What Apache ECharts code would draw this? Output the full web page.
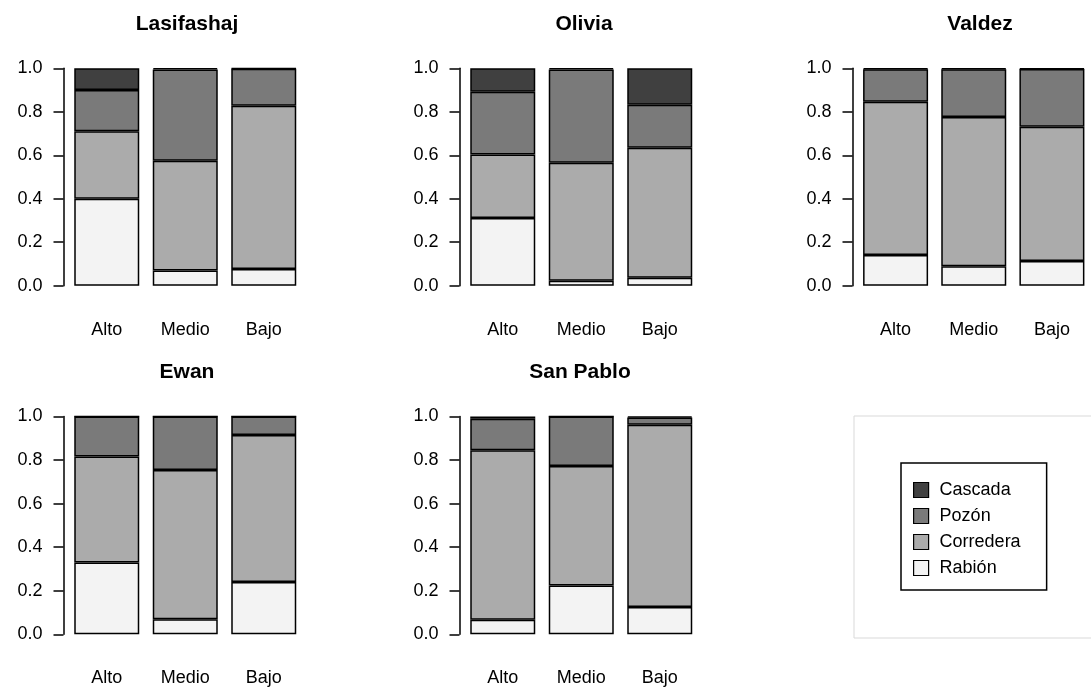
<!DOCTYPE html>
<html>
<head>
<meta charset="utf-8">
<script src="https://cdn.jsdelivr.net/npm/echarts@6/dist/echarts.min.js"></script>
<style>
html,body{margin:0;padding:0;background:#fff;}
#chart{width:1091px;height:688px;}
</style>
</head>
<body>
<div id="chart"></div>
<script>
// ---- data ----
const categories = ['Alto', 'Medio', 'Bajo'];
const sites = ['Lasifashaj', 'Olivia', 'Valdez', 'Ewan', 'San Pablo'];
const typeNames = ['Rabión', 'Corredera', 'Pozón', 'Cascada'];
const legendOrder = ['Cascada', 'Pozón', 'Corredera', 'Rabión'];
const yTicks = [0, 0.2, 0.4, 0.6, 0.8, 1.0];

// proportions per site: [Alto, Medio, Bajo]
const rabion = [
  [0.400, 0.070, 0.077],
  [0.311, 0.023, 0.036],
  [0.141, 0.089, 0.114],
  [0.330, 0.069, 0.240],
  [0.067, 0.224, 0.125]
];
const corredera = [
  [0.310, 0.505, 0.751],
  [0.292, 0.543, 0.599],
  [0.705, 0.687, 0.617],
  [0.486, 0.685, 0.675],
  [0.778, 0.549, 0.837]
];
const pozon = [
  [0.190, 0.420, 0.170],
  [0.289, 0.429, 0.197],
  [0.150, 0.220, 0.266],
  [0.184, 0.246, 0.085],
  [0.145, 0.227, 0.033]
];
const cascada = [
  [0.100, 0.005, 0.002],
  [0.108, 0.005, 0.168],
  [0.004, 0.004, 0.003],
  [0.000, 0.000, 0.000],
  [0.010, 0.000, 0.005]
];

// ---- styling / layout ----
const colors = { 'Rabión': '#f3f3f3', 'Corredera': '#ababab', 'Pozón': '#7a7a7a', 'Cascada': '#404040' };
const FONT = 'Liberation Sans, Arial, sans-serif';
const panels = [
  { left: 67.5, top: 68.3, height: 217.4, titleX: 187, titleY: 14 },
  { left: 463.5, top: 68.3, height: 217.4, titleX: 584, titleY: 14 },
  { left: 856.5, top: 68.3, height: 217.4, titleX: 980, titleY: 14 },
  { left: 67.5, top: 416.5, height: 217.8, titleX: 187, titleY: 362 },
  { left: 463.5, top: 416.5, height: 217.8, titleX: 580, titleY: 362 }
];
const PANEL_W = 235.5;
const valuesByType = { 'Rabión': rabion, 'Corredera': corredera, 'Pozón': pozon, 'Cascada': cascada };

const grid = [], xAxis = [], yAxis = [], series = [], title = [];
panels.forEach((p, i) => {
  grid.push({ left: p.left, top: p.top, width: PANEL_W, height: p.height, containLabel: false });
  title.push({
    text: sites[i], left: p.titleX, top: p.titleY, textAlign: 'center', padding: 0,
    textStyle: { fontFamily: FONT, fontSize: 21, fontWeight: 'bold', color: '#000' }
  });
  xAxis.push({
    type: 'category', gridIndex: i, data: categories,
    axisLine: { show: false }, axisTick: { show: false },
    axisLabel: { color: '#000', fontSize: 18, fontFamily: FONT, margin: 35 }
  });
  yAxis.push({
    type: 'value', gridIndex: i, min: 0, max: 1, interval: 0.2, offset: 4,
    splitLine: { show: false },
    axisLine: { show: true, lineStyle: { color: '#000', width: 1.5 } },
    axisTick: { show: true, length: 10, lineStyle: { color: '#000', width: 1.5 } },
    axisLabel: { color: '#000', fontSize: 18, fontFamily: FONT, margin: 21,
      formatter: v => (yTicks.some(t => Math.abs(t - v) < 1e-9) ? v.toFixed(1) : '') }
  });
  typeNames.forEach(name => {
    series.push({
      name: name, type: 'bar', stack: 'site' + i, xAxisIndex: i, yAxisIndex: i,
      barWidth: 65, data: valuesByType[name][i],
      itemStyle: { color: colors[name], borderColor: '#000', borderWidth: 1.5 },
      emphasis: { disabled: true }, silent: true
    });
  });
});

const option = {
  animation: false,
  backgroundColor: '#fff',
  title: title,
  grid: grid, xAxis: xAxis, yAxis: yAxis, series: series,
  legend: {
    data: legendOrder.map(n => ({ name: n, icon: 'rect' })),
    orient: 'vertical', left: 901, top: 463,
    padding: [18, 26, 13, 12], itemGap: 8, itemWidth: 15, itemHeight: 15,
    borderColor: '#000', borderWidth: 1.5, selectedMode: false,
    itemStyle: { borderColor: '#000', borderWidth: 1.2 },
    textStyle: { fontFamily: FONT, fontSize: 18, color: '#000', padding: [0, 0, 0, 6] }
  },
  graphic: [{
    type: 'rect', shape: { x: 854, y: 416, width: 260, height: 222 },
    style: { fill: 'none', stroke: '#d9d9d9', lineWidth: 1 }, silent: true
  }]
};

const chart = echarts.init(document.getElementById('chart'), null, { renderer: 'canvas' });
chart.setOption(option);
</script>
</body>
</html>
